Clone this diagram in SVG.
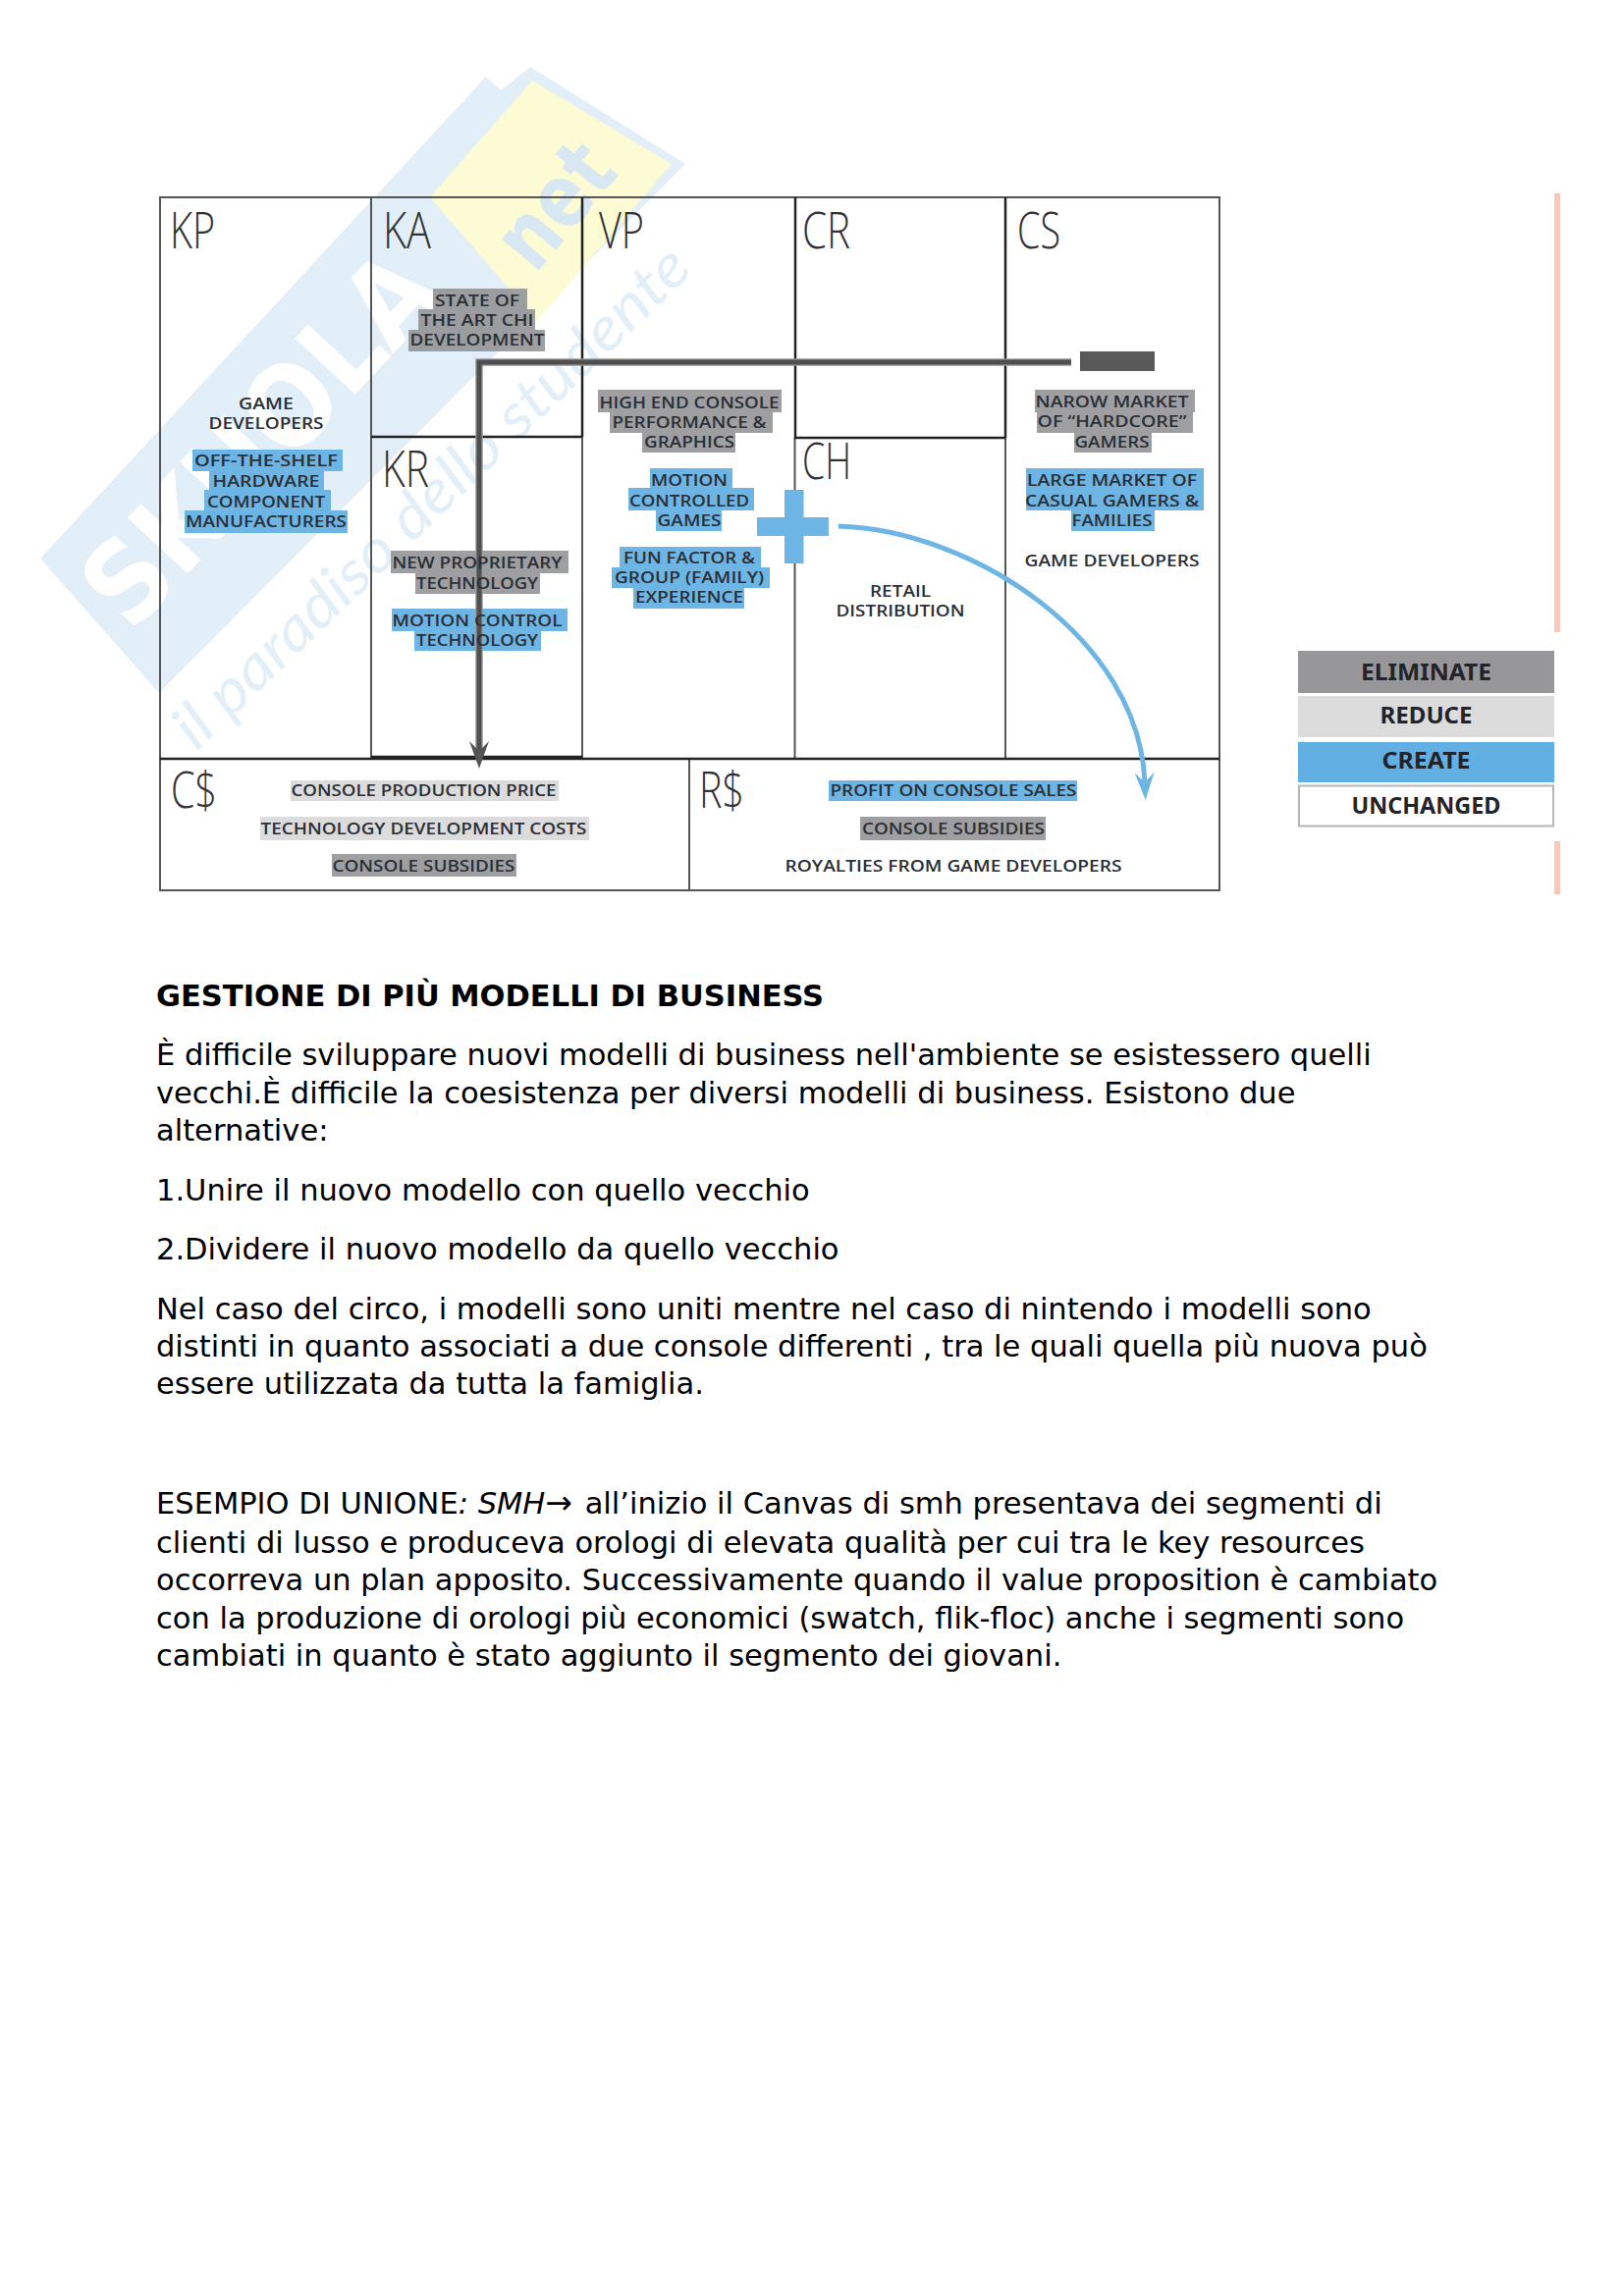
<svg xmlns="http://www.w3.org/2000/svg" width="1653" height="2339" viewBox="0 0 1653 2339">
<defs>
<style>
.g{fill:#929294;fill-opacity:.88}.l{fill:#dcdcdc}.b{fill:#6db5e5}
.t{font-family:"Open Sans","Liberation Sans",sans-serif;font-size:17px;font-weight:600;fill:#2b2f36;text-anchor:middle}
.h{font-family:"Open Sans","Liberation Sans",sans-serif;font-size:52px;font-weight:300;fill:#333}
.cell{fill:none;stroke:#555;stroke-width:2}
.dk{fill:none;stroke:#222;stroke-width:2.500}
.lg{font-family:"Noto Sans","Liberation Sans",sans-serif;font-size:24px;font-weight:700;fill:#22242a;text-anchor:middle}
.p{font-family:"DejaVu Sans",sans-serif;font-size:30.5px;fill:#000}
</style>
<marker id="ag" markerUnits="userSpaceOnUse" viewBox="0 0 28 20" refX="15" refY="10" markerWidth="28" markerHeight="20" orient="auto"><path d="M0 0L10 10L0 20L28 10Z" fill="#555"/></marker>
<marker id="ab" markerUnits="userSpaceOnUse" viewBox="0 0 28 20" refX="10" refY="10" markerWidth="28" markerHeight="20" orient="auto"><path d="M0 0L10 10L0 20L28 10Z" fill="#6db5e5"/></marker>
</defs>
<rect width="1653" height="2339" fill="#fff"/>
<g id="watermark">
<polygon points="41,569 495,78 510,92 540,68 698,167 162,706" fill="#e2eff8"/>
<polygon points="542,82 684,167 547,327 438,201" fill="#fdfbd3"/>
<text transform="translate(134,646) rotate(-47)" font-family="'DejaVu Sans',sans-serif" font-weight="700" font-size="115" fill="#fff" textLength="470" lengthAdjust="spacingAndGlyphs">SKUOLA</text>
<text transform="translate(545,280) rotate(-50)" font-family="'DejaVu Sans',sans-serif" font-weight="700" font-size="90" fill="#d8e8f3" textLength="135" lengthAdjust="spacingAndGlyphs">net</text>
<text transform="translate(200,766) rotate(-44)" font-family="Lato,'DejaVu Sans',sans-serif" font-style="italic" font-size="62" fill="#e2eff8" textLength="705" lengthAdjust="spacingAndGlyphs">il paradiso dello studente</text>
</g>
<g id="accents" fill="#f9c9b8"><rect x="1583" y="197" width="6" height="447"/><rect x="1583" y="857" width="6" height="54"/></g>
<g id="highlights">
<rect class="b" x="196" y="458" width="153" height="22"/><rect class="b" x="213" y="480" width="117" height="20"/><rect class="b" x="208" y="499" width="129" height="21"/><rect class="b" x="188" y="520" width="166" height="23"/>
<rect class="g" x="441" y="294" width="96" height="21"/><rect class="g" x="426" y="315" width="119" height="21"/><rect class="g" x="416" y="336" width="139" height="22"/>
<rect class="g" x="398" y="561" width="181" height="23"/><rect class="g" x="423" y="584" width="127" height="21"/><rect class="b" x="399" y="620" width="179" height="23"/><rect class="b" x="422" y="643" width="129" height="20"/>
<rect class="g" x="609" y="397" width="187" height="23"/><rect class="g" x="621" y="420" width="166" height="21"/><rect class="g" x="654" y="441" width="95" height="20"/>
<rect class="b" x="662" y="477" width="84" height="20"/><rect class="b" x="640" y="497" width="128" height="23"/><rect class="b" x="668" y="520" width="67" height="21"/>
<rect class="b" x="631" y="557" width="144" height="21"/><rect class="b" x="623" y="578" width="161" height="21"/><rect class="b" x="645" y="599" width="113" height="21"/>
<rect class="g" x="1054" y="397" width="163" height="23"/><rect class="g" x="1056" y="420" width="159" height="21"/><rect class="g" x="1094" y="441" width="79" height="20"/>
<rect class="b" x="1045" y="477" width="181" height="43"/><rect class="b" x="1091" y="520" width="85" height="21"/>
<rect class="l" x="296" y="795" width="273" height="21"/><rect class="l" x="265" y="832" width="335" height="24"/><rect class="g" x="338" y="870" width="188" height="23"/>
<rect class="b" x="844" y="795" width="253" height="21"/><rect class="g" x="876" y="832" width="189" height="24"/>
</g>
<g id="grid">
<rect class="cell" x="163" y="201" width="1079" height="706"/>
<path class="cell" d="M378 201V773M809.500 446V773M1024 446V773M702 773V907M593 445V773" stroke-width="1.500"/>
<path class="dk" d="M593 201V445M378 445H593M810 201V446H1024M1024 201V446M163 773H1242M378 771H593"/>
</g>
<g id="connectors">
<path d="M1091 369H488V770" fill="none" stroke="#9a9a9a" stroke-width="7.500"/>
<path d="M1091 369H488V770" fill="none" stroke="#4f4f4f" stroke-width="5" marker-end="url(#ag)"/>
<path d="M854 536C990 540 1160 650 1166 797" fill="none" stroke="#6db5e5" stroke-width="5" marker-end="url(#ab)"/>
</g>
<g id="plus" fill="#6db5e5"><rect x="799" y="499" width="19.500" height="75"/><rect x="771" y="527" width="73" height="19"/></g>
<rect id="minus" x="1100" y="358" width="76" height="20" fill="#595959"/>
<g id="headings">
<text class="h" x="173" y="253" textLength="46" lengthAdjust="spacingAndGlyphs">KP</text>
<text class="h" x="390" y="253" textLength="49" lengthAdjust="spacingAndGlyphs">KA</text>
<text class="h" x="610" y="253" textLength="46" lengthAdjust="spacingAndGlyphs">VP</text>
<text class="h" x="817" y="253" textLength="49" lengthAdjust="spacingAndGlyphs">CR</text>
<text class="h" x="1036" y="253" textLength="44" lengthAdjust="spacingAndGlyphs">CS</text>
<text class="h" x="817" y="488" textLength="50" lengthAdjust="spacingAndGlyphs">CH</text>
<text class="h" x="389" y="496" textLength="48" lengthAdjust="spacingAndGlyphs">KR</text>
<text class="h" x="174" y="823" textLength="47" lengthAdjust="spacingAndGlyphs">C$</text>
<text class="h" x="712" y="823" textLength="46" lengthAdjust="spacingAndGlyphs">R$</text>
</g>
<g id="labels">
<text class="t" x="271" y="417" textLength="56" lengthAdjust="spacingAndGlyphs">GAME</text>
<text class="t" x="271" y="437" textLength="117" lengthAdjust="spacingAndGlyphs">DEVELOPERS</text>
<text class="t" x="271" y="475" textLength="146" lengthAdjust="spacingAndGlyphs">OFF-THE-SHELF</text>
<text class="t" x="271" y="496" textLength="109" lengthAdjust="spacingAndGlyphs">HARDWARE</text>
<text class="t" x="271" y="517" textLength="120" lengthAdjust="spacingAndGlyphs">COMPONENT</text>
<text class="t" x="271" y="537" textLength="164" lengthAdjust="spacingAndGlyphs">MANUFACTURERS</text>
<text class="t" x="486" y="312" textLength="86" lengthAdjust="spacingAndGlyphs">STATE OF</text>
<text class="t" x="486" y="332" textLength="115" lengthAdjust="spacingAndGlyphs">THE ART CHI</text>
<text class="t" x="486" y="352" textLength="137" lengthAdjust="spacingAndGlyphs">DEVELOPMENT</text>
<text class="t" x="486" y="579" textLength="173" lengthAdjust="spacingAndGlyphs">NEW PROPRIETARY</text>
<text class="t" x="486" y="600" textLength="124" lengthAdjust="spacingAndGlyphs">TECHNOLOGY</text>
<text class="t" x="486" y="638" textLength="173" lengthAdjust="spacingAndGlyphs">MOTION CONTROL</text>
<text class="t" x="486" y="658" textLength="124" lengthAdjust="spacingAndGlyphs">TECHNOLOGY</text>
<text class="t" x="702" y="416" textLength="183" lengthAdjust="spacingAndGlyphs">HIGH END CONSOLE</text>
<text class="t" x="702" y="436" textLength="157" lengthAdjust="spacingAndGlyphs">PERFORMANCE &amp;</text>
<text class="t" x="702" y="456" textLength="92" lengthAdjust="spacingAndGlyphs">GRAPHICS</text>
<text class="t" x="702" y="495" textLength="78" lengthAdjust="spacingAndGlyphs">MOTION</text>
<text class="t" x="702" y="516" textLength="122" lengthAdjust="spacingAndGlyphs">CONTROLLED</text>
<text class="t" x="702" y="536" textLength="65" lengthAdjust="spacingAndGlyphs">GAMES</text>
<text class="t" x="702" y="574" textLength="134" lengthAdjust="spacingAndGlyphs">FUN FACTOR &amp;</text>
<text class="t" x="702" y="594" textLength="152" lengthAdjust="spacingAndGlyphs">GROUP (FAMILY)</text>
<text class="t" x="702" y="614" textLength="110" lengthAdjust="spacingAndGlyphs">EXPERIENCE</text>
<text class="t" x="917" y="608" textLength="62" lengthAdjust="spacingAndGlyphs">RETAIL</text>
<text class="t" x="917" y="628" textLength="131" lengthAdjust="spacingAndGlyphs">DISTRIBUTION</text>
<text class="t" x="1132.500" y="415" textLength="156" lengthAdjust="spacingAndGlyphs">NAROW MARKET</text>
<text class="t" x="1132.500" y="435" textLength="152" lengthAdjust="spacingAndGlyphs">OF “HARDCORE”</text>
<text class="t" x="1132.500" y="456" textLength="76" lengthAdjust="spacingAndGlyphs">GAMERS</text>
<text class="t" x="1132.500" y="495" textLength="173" lengthAdjust="spacingAndGlyphs">LARGE MARKET OF</text>
<text class="t" x="1132.500" y="516" textLength="177" lengthAdjust="spacingAndGlyphs">CASUAL GAMERS &amp;</text>
<text class="t" x="1132.500" y="536" textLength="82" lengthAdjust="spacingAndGlyphs">FAMILIES</text>
<text class="t" x="1132.500" y="577" textLength="178" lengthAdjust="spacingAndGlyphs">GAME DEVELOPERS</text>
<text class="t" x="431.500" y="811" textLength="270" lengthAdjust="spacingAndGlyphs">CONSOLE PRODUCTION PRICE</text>
<text class="t" x="431.500" y="850" textLength="332" lengthAdjust="spacingAndGlyphs">TECHNOLOGY DEVELOPMENT COSTS</text>
<text class="t" x="431.500" y="888" textLength="186" lengthAdjust="spacingAndGlyphs">CONSOLE SUBSIDIES</text>
<text class="t" x="971" y="811" textLength="251" lengthAdjust="spacingAndGlyphs">PROFIT ON CONSOLE SALES</text>
<text class="t" x="971" y="850" textLength="186" lengthAdjust="spacingAndGlyphs">CONSOLE SUBSIDIES</text>
<text class="t" x="971" y="888" textLength="343" lengthAdjust="spacingAndGlyphs">ROYALTIES FROM GAME DEVELOPERS</text>
</g>
<g id="legend">
<rect x="1322" y="663" width="261" height="43" fill="#97979a"/>
<rect x="1322" y="709" width="261" height="42" fill="#dcdcdc"/>
<rect x="1322" y="756" width="261" height="41" fill="#62b0e3"/>
<rect x="1323" y="800.500" width="259" height="41" fill="#fff" stroke="#b5b5b5" stroke-width="2"/>
<text class="lg" x="1452.500" y="693" textLength="133" lengthAdjust="spacingAndGlyphs">ELIMINATE</text>
<text class="lg" x="1452.500" y="737" textLength="94" lengthAdjust="spacingAndGlyphs">REDUCE</text>
<text class="lg" x="1452.500" y="783" textLength="90" lengthAdjust="spacingAndGlyphs">CREATE</text>
<text class="lg" x="1452.500" y="829" textLength="152" lengthAdjust="spacingAndGlyphs">UNCHANGED</text>
</g>
<g id="body">
<text class="p" x="159" y="1025" font-weight="700">GESTIONE DI PIÙ MODELLI DI BUSINESS</text>
<text class="p" x="159" y="1085">È difficile sviluppare nuovi modelli di business nell'ambiente se esistessero quelli</text>
<text class="p" x="159" y="1124">vecchi.È difficile la coesistenza per diversi modelli di business. Esistono due</text>
<text class="p" x="159" y="1162">alternative:</text>
<text class="p" x="159" y="1223">1.Unire il nuovo modello con quello vecchio</text>
<text class="p" x="159" y="1283">2.Dividere il nuovo modello da quello vecchio</text>
<text class="p" x="159" y="1344">Nel caso del circo, i modelli sono uniti mentre nel caso di nintendo i modelli sono</text>
<text class="p" x="159" y="1382">distinti in quanto associati a due console differenti , tra le quali quella più nuova può</text>
<text class="p" x="159" y="1420">essere utilizzata da tutta la famiglia.</text>
<text class="p" x="159" y="1542">ESEMPIO DI UNIONE<tspan font-style="italic">: SMH</tspan><tspan font-size="33">→</tspan><tspan dx="3"> all’inizio il Canvas di smh presentava dei segmenti di</tspan></text>
<text class="p" x="159" y="1582">clienti di lusso e produceva orologi di elevata qualità per cui tra le key resources</text>
<text class="p" x="159" y="1620">occorreva un plan apposito. Successivamente quando il value proposition è cambiato</text>
<text class="p" x="159" y="1659">con la produzione di orologi più economici (swatch, flik-floc) anche i segmenti sono</text>
<text class="p" x="159" y="1697">cambiati in quanto è stato aggiunto il segmento dei giovani.</text>
</g>
</svg>
